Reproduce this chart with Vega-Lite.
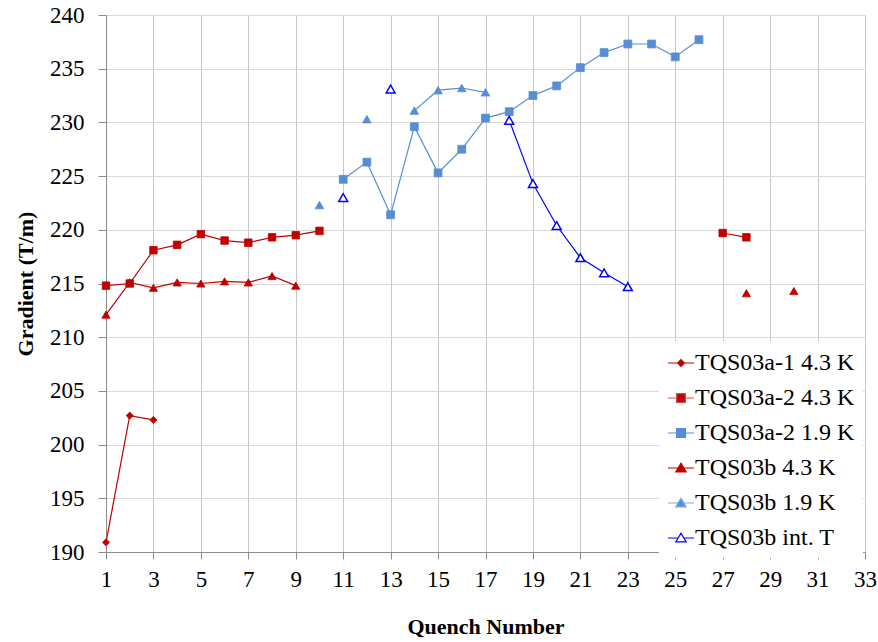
{
  "$schema": "https://vega.github.io/schema/vega-lite/v6.json",
  "width": 759,
  "height": 537,
  "autosize": "none",
  "padding": {"left": 106, "top": 15, "right": 13, "bottom": 90},
  "background": "white",
  "config": {
    "view": {"stroke": null},
    "font": "Liberation Serif",
    "axis": {"labelFont": "Liberation Serif", "titleFont": "Liberation Serif"},
    "legend": {
      "orient": "none",
      "legendX": 553,
      "legendY": 326,
      "padding": 8,
      "fillColor": "white",
      "symbolSize": 676,
      "symbolStrokeWidth": 1.2,
      "labelOffset": 0,
      "rowPadding": 9,
      "labelFont": "Liberation Serif",
      "labelFontSize": 24,
      "labelColor": "black",
      "labelLimit": 300
    }
  },
  "resolve": {"scale": {"shape": "independent", "fill": "independent", "stroke": "independent", "size": "independent"}},
  "data": {
    "values": [
      {"series": "TQS03a-1 4.3 K", "run": "a1", "quench": 1, "gradient": 190.9},
      {"series": "TQS03a-1 4.3 K", "run": "a1", "quench": 2, "gradient": 202.7},
      {"series": "TQS03a-1 4.3 K", "run": "a1", "quench": 3, "gradient": 202.3},
      {"series": "TQS03a-2 4.3 K", "run": "b1", "quench": 1, "gradient": 214.8},
      {"series": "TQS03a-2 4.3 K", "run": "b1", "quench": 2, "gradient": 215.0},
      {"series": "TQS03a-2 4.3 K", "run": "b1", "quench": 3, "gradient": 218.1},
      {"series": "TQS03a-2 4.3 K", "run": "b1", "quench": 4, "gradient": 218.6},
      {"series": "TQS03a-2 4.3 K", "run": "b1", "quench": 5, "gradient": 219.6},
      {"series": "TQS03a-2 4.3 K", "run": "b1", "quench": 6, "gradient": 219.0},
      {"series": "TQS03a-2 4.3 K", "run": "b1", "quench": 7, "gradient": 218.8},
      {"series": "TQS03a-2 4.3 K", "run": "b1", "quench": 8, "gradient": 219.3},
      {"series": "TQS03a-2 4.3 K", "run": "b1", "quench": 9, "gradient": 219.5},
      {"series": "TQS03a-2 4.3 K", "run": "b1", "quench": 10, "gradient": 219.9},
      {"series": "TQS03a-2 4.3 K", "run": "b2", "quench": 27, "gradient": 219.7},
      {"series": "TQS03a-2 4.3 K", "run": "b2", "quench": 28, "gradient": 219.3},
      {"series": "TQS03a-2 1.9 K", "run": "c1", "quench": 11, "gradient": 224.7},
      {"series": "TQS03a-2 1.9 K", "run": "c1", "quench": 12, "gradient": 226.3},
      {"series": "TQS03a-2 1.9 K", "run": "c1", "quench": 13, "gradient": 221.4},
      {"series": "TQS03a-2 1.9 K", "run": "c1", "quench": 14, "gradient": 229.6},
      {"series": "TQS03a-2 1.9 K", "run": "c1", "quench": 15, "gradient": 225.3},
      {"series": "TQS03a-2 1.9 K", "run": "c1", "quench": 16, "gradient": 227.5},
      {"series": "TQS03a-2 1.9 K", "run": "c1", "quench": 17, "gradient": 230.4},
      {"series": "TQS03a-2 1.9 K", "run": "c1", "quench": 18, "gradient": 231.0},
      {"series": "TQS03a-2 1.9 K", "run": "c1", "quench": 19, "gradient": 232.5},
      {"series": "TQS03a-2 1.9 K", "run": "c1", "quench": 20, "gradient": 233.4},
      {"series": "TQS03a-2 1.9 K", "run": "c1", "quench": 21, "gradient": 235.1},
      {"series": "TQS03a-2 1.9 K", "run": "c1", "quench": 22, "gradient": 236.5},
      {"series": "TQS03a-2 1.9 K", "run": "c1", "quench": 23, "gradient": 237.3},
      {"series": "TQS03a-2 1.9 K", "run": "c1", "quench": 24, "gradient": 237.3},
      {"series": "TQS03a-2 1.9 K", "run": "c1", "quench": 25, "gradient": 236.1},
      {"series": "TQS03a-2 1.9 K", "run": "c1", "quench": 26, "gradient": 237.7},
      {"series": "TQS03b 4.3 K", "run": "d1", "quench": 1, "gradient": 212.1},
      {"series": "TQS03b 4.3 K", "run": "d1", "quench": 2, "gradient": 215.1},
      {"series": "TQS03b 4.3 K", "run": "d1", "quench": 3, "gradient": 214.6},
      {"series": "TQS03b 4.3 K", "run": "d1", "quench": 4, "gradient": 215.1},
      {"series": "TQS03b 4.3 K", "run": "d1", "quench": 5, "gradient": 215.0},
      {"series": "TQS03b 4.3 K", "run": "d1", "quench": 6, "gradient": 215.2},
      {"series": "TQS03b 4.3 K", "run": "d1", "quench": 7, "gradient": 215.1},
      {"series": "TQS03b 4.3 K", "run": "d1", "quench": 8, "gradient": 215.7},
      {"series": "TQS03b 4.3 K", "run": "d1", "quench": 9, "gradient": 214.8},
      {"series": "TQS03b 4.3 K", "run": "d2", "quench": 28, "gradient": 214.1},
      {"series": "TQS03b 4.3 K", "run": "d3", "quench": 30, "gradient": 214.3},
      {"series": "TQS03b 1.9 K", "run": "e1", "quench": 10, "gradient": 222.3},
      {"series": "TQS03b 1.9 K", "run": "e2", "quench": 12, "gradient": 230.3},
      {"series": "TQS03b 1.9 K", "run": "e3", "quench": 14, "gradient": 231.1},
      {"series": "TQS03b 1.9 K", "run": "e3", "quench": 15, "gradient": 233.0},
      {"series": "TQS03b 1.9 K", "run": "e3", "quench": 16, "gradient": 233.2},
      {"series": "TQS03b 1.9 K", "run": "e3", "quench": 17, "gradient": 232.8},
      {"series": "TQS03b int. T", "run": "f1", "quench": 11, "gradient": 223.0},
      {"series": "TQS03b int. T", "run": "f2", "quench": 13, "gradient": 233.1},
      {"series": "TQS03b int. T", "run": "f3", "quench": 18, "gradient": 230.2},
      {"series": "TQS03b int. T", "run": "f3", "quench": 19, "gradient": 224.3},
      {"series": "TQS03b int. T", "run": "f3", "quench": 20, "gradient": 220.4},
      {"series": "TQS03b int. T", "run": "f3", "quench": 21, "gradient": 217.4},
      {"series": "TQS03b int. T", "run": "f3", "quench": 22, "gradient": 216.0},
      {"series": "TQS03b int. T", "run": "f3", "quench": 23, "gradient": 214.7}
    ]
  },
  "encoding": {
    "x": {
      "field": "quench",
      "type": "quantitative",
      "scale": {"domain": [1, 33], "nice": false, "zero": false},
      "axis": {
        "values": [1, 3, 5, 7, 9, 11, 13, 15, 17, 19, 21, 23, 25, 27, 29, 31, 33],
        "grid": true,
        "gridColor": "#c6c6c6",
        "domainColor": "#8c8c8c",
        "tickColor": "#8c8c8c",
        "tickSize": 7,
        "labelFont": "Liberation Serif",
        "labelFontSize": 23,
        "labelColor": "black",
        "labelPadding": 9,
        "labelFlush": false,
        "labelOverlap": false,
        "title": "Quench Number",
        "titleFont": "Liberation Serif",
        "titleFontSize": 22,
        "titleFontWeight": "bold",
        "titleColor": "black",
        "titlePadding": 25
      }
    },
    "y": {
      "field": "gradient",
      "type": "quantitative",
      "scale": {"domain": [190, 240], "nice": false, "zero": false},
      "axis": {
        "values": [190, 195, 200, 205, 210, 215, 220, 225, 230, 235, 240],
        "grid": true,
        "gridColor": "#d9d9d9",
        "domainColor": "#8c8c8c",
        "tickColor": "#8c8c8c",
        "tickSize": 8,
        "labelFont": "Liberation Serif",
        "labelFontSize": 23,
        "labelColor": "black",
        "labelPadding": 14,
        "title": "Gradient (T/m)",
        "titleFont": "Liberation Serif",
        "titleFontSize": 22,
        "titleFontWeight": "bold",
        "titleColor": "black",
        "titlePadding": 12
      }
    }
  },
  "layer": [
    {
      "mark": {"type": "line", "strokeWidth": 1.2},
      "encoding": {
        "detail": {"field": "run"},
        "stroke": {
          "field": "series",
          "type": "nominal",
          "scale": {
            "domain": ["TQS03a-1 4.3 K", "TQS03a-2 4.3 K", "TQS03a-2 1.9 K", "TQS03b 4.3 K", "TQS03b 1.9 K", "TQS03b int. T"],
            "range": ["#C00000", "#C00000", "#558ED5", "#C00000", "#558ED5", "#0000FF"]
          },
          "legend": null
        }
      }
    },
    {
      "mark": {"type": "point", "filled": true, "opacity": 1},
      "encoding": {
        "shape": {
          "field": "series",
          "type": "nominal",
          "scale": {
            "domain": ["TQS03a-1 4.3 K", "TQS03a-2 4.3 K", "TQS03a-2 1.9 K", "TQS03b 4.3 K", "TQS03b 1.9 K", "TQS03b int. T"],
            "range": ["diamond", "square", "square", "triangle-up", "triangle-up", "triangle-up"]
          },
          "legend": null
        },
        "size": {
          "field": "series",
          "type": "nominal",
          "scale": {
            "domain": ["TQS03a-1 4.3 K", "TQS03a-2 4.3 K", "TQS03a-2 1.9 K", "TQS03b 4.3 K", "TQS03b 1.9 K", "TQS03b int. T"],
            "range": [50, 80, 80, 140, 140, 130]
          },
          "legend": null
        },
        "fill": {
          "field": "series",
          "type": "nominal",
          "scale": {
            "domain": ["TQS03a-1 4.3 K", "TQS03a-2 4.3 K", "TQS03a-2 1.9 K", "TQS03b 4.3 K", "TQS03b 1.9 K", "TQS03b int. T"],
            "range": ["#C00000", "#C00000", "#558ED5", "#C00000", "#558ED5", "#FFFFFF"]
          },
          "legend": null
        },
        "stroke": {
          "field": "series",
          "type": "nominal",
          "scale": {
            "domain": ["TQS03a-1 4.3 K", "TQS03a-2 4.3 K", "TQS03a-2 1.9 K", "TQS03b 4.3 K", "TQS03b 1.9 K", "TQS03b int. T"],
            "range": ["#C00000", "#C00000", "#558ED5", "#C00000", "#558ED5", "#0000FF"]
          },
          "legend": null
        },
        "strokeWidth": {
          "condition": {"test": "datum.series === 'TQS03b int. T'", "value": 1.5},
          "value": 0.8
        }
      }
    },
    {
      "transform": [{"filter": "false"}],
      "mark": {"type": "point", "filled": true, "opacity": 1},
      "encoding": {
        "shape": {
          "field": "series",
          "type": "nominal",
          "scale": {
            "domain": ["TQS03a-1 4.3 K", "TQS03a-2 4.3 K", "TQS03a-2 1.9 K", "TQS03b 4.3 K", "TQS03b 1.9 K", "TQS03b int. T"],
            "range": [
              "M-1,0L-0.25,0M0.25,0L1,0M0,-0.26L0.26,0L0,0.26L-0.26,0Z",
              "M-1,0L-0.34,0M0.34,0L1,0M-0.34,-0.34L0.34,-0.34L0.34,0.34L-0.34,0.34Z",
              "M-1,0L-0.34,0M0.34,0L1,0M-0.34,-0.34L0.34,-0.34L0.34,0.34L-0.34,0.34Z",
              "M-1,0L-0.22,0M0.22,0L1,0M0,-0.37L0.4,0.3L-0.4,0.3Z",
              "M-1,0L-0.22,0M0.22,0L1,0M0,-0.37L0.4,0.3L-0.4,0.3Z",
              "M-1,0L-0.22,0M0.22,0L1,0M0,-0.37L0.4,0.3L-0.4,0.3Z"
            ]
          },
          "legend": {"title": null}
        },
        "fill": {
          "field": "series",
          "type": "nominal",
          "scale": {
            "domain": ["TQS03a-1 4.3 K", "TQS03a-2 4.3 K", "TQS03a-2 1.9 K", "TQS03b 4.3 K", "TQS03b 1.9 K", "TQS03b int. T"],
            "range": ["#C00000", "#C00000", "#558ED5", "#C00000", "#558ED5", "#FFFFFF"]
          },
          "legend": {"title": null}
        },
        "stroke": {
          "field": "series",
          "type": "nominal",
          "scale": {
            "domain": ["TQS03a-1 4.3 K", "TQS03a-2 4.3 K", "TQS03a-2 1.9 K", "TQS03b 4.3 K", "TQS03b 1.9 K", "TQS03b int. T"],
            "range": ["#C00000", "#D05050", "#558ED5", "#C00000", "#7FA9DE", "#0000FF"]
          },
          "legend": {"title": null}
        }
      }
    }
  ]
}
